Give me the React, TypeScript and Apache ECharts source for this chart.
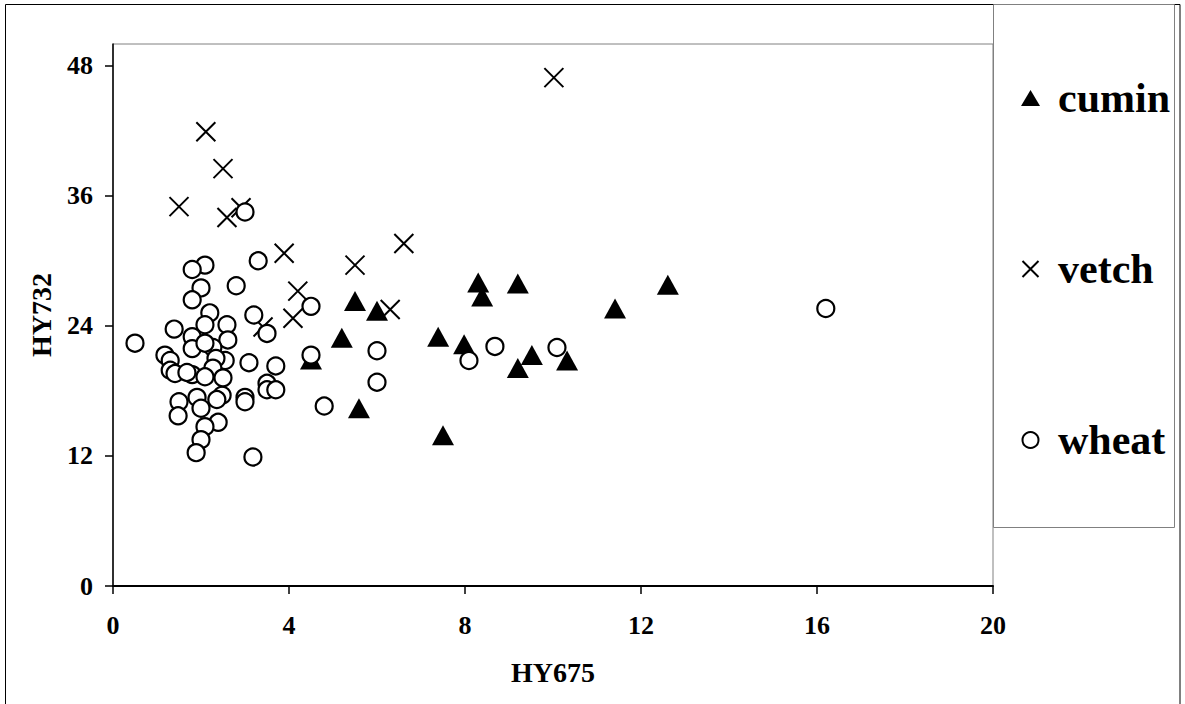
import React, { useEffect, useRef } from "react";
import * as echarts from "echarts";

const seriesNames = ["cumin", "vetch", "wheat"];
const xTicks = [0, 4, 8, 12, 16, 20];
const yTicks = [0, 12, 24, 36, 48];
const xAxisTitle = "HY675";
const yAxisTitle = "HY732";

const cumin: [number, number][] = [
  [4.5, 20.9], [5.5, 26.3], [6.0, 25.4], [5.2, 22.9], [5.59, 16.4], [7.39, 23.0],
  [7.5, 13.9], [7.98, 22.3], [8.3, 28.0], [8.39, 26.7], [9.2, 27.9], [9.2, 20.1],
  [9.52, 21.3], [10.32, 20.8], [11.41, 25.6], [12.61, 27.8],
];

const vetch: [number, number][] = [
  [10.02, 46.9], [2.11, 41.9], [2.5, 38.5], [1.5, 35.0], [2.59, 34.0], [2.91, 34.9],
  [3.89, 30.7], [4.2, 27.2], [4.09, 24.7], [5.5, 29.6], [6.61, 31.6], [6.3, 25.5],
  [3.41, 23.9],
];

const wheat: [number, number][] = [
  [3.0, 34.5], [2.09, 29.6], [1.8, 29.2], [3.3, 30.0], [2.8, 27.7], [2.0, 27.5],
  [1.8, 26.4], [2.2, 25.2], [3.2, 25.0], [4.5, 25.8], [1.39, 23.7], [2.59, 24.1],
  [2.09, 24.1], [3.5, 23.3], [0.5, 22.4], [1.8, 23.0], [2.61, 22.7], [1.8, 21.9],
  [2.27, 22.0], [2.09, 22.4], [1.18, 21.3], [1.3, 20.8], [2.55, 20.8], [2.34, 21.0],
  [4.5, 21.3], [1.3, 19.9], [1.41, 19.6], [1.8, 19.5], [2.27, 20.1], [2.09, 19.3],
  [3.09, 20.6], [3.7, 20.3], [3.5, 18.7], [3.5, 18.1], [3.7, 18.1], [3.0, 17.4],
  [3.0, 17.0], [2.48, 17.6], [1.91, 17.4], [1.5, 17.0], [1.48, 15.7], [2.0, 16.4],
  [2.39, 15.1], [2.09, 14.7], [2.0, 13.5], [1.89, 12.3], [3.18, 11.9], [6.0, 21.7],
  [6.0, 18.8], [4.8, 16.6], [8.09, 20.8], [8.68, 22.1], [10.09, 22.0], [16.2, 25.6],
  [1.68, 19.7], [2.36, 17.2], [2.5, 19.2],
];

const FONT = "'Liberation Serif', 'Times New Roman', serif";
const CROSS = "path://M0,0L10,10M10,0L0,10";

export default function App() {
  const ref = useRef<HTMLDivElement>(null);
  useEffect(() => {
    const chart = echarts.init(ref.current!, null, { renderer: "svg" });
    chart.setOption({
      animation: false,
      backgroundColor: "#ffffff",
      grid: {
        left: 113,
        top: 44,
        width: 880,
        height: 542,
        show: true,
        borderColor: "#808080",
        borderWidth: 1,
        backgroundColor: "transparent",
      },
      xAxis: {
        type: "value",
        min: 0,
        max: 20,
        interval: 4,
        name: xAxisTitle,
        nameLocation: "middle",
        nameGap: 72,
        nameTextStyle: { fontSize: 28, fontWeight: "bold", fontFamily: FONT, color: "#000" },
        axisLine: { onZero: false, lineStyle: { color: "#000", width: 2 } },
        axisTick: { show: true, length: 8, lineStyle: { color: "#000", width: 1.5 } },
        axisLabel: {
          margin: 26,
          fontSize: 26,
          fontWeight: "bold",
          fontFamily: FONT,
          color: "#000",
          customValues: xTicks,
        },
        splitLine: { show: false },
      },
      yAxis: {
        type: "value",
        min: 0,
        max: 50,
        name: yAxisTitle,
        nameLocation: "middle",
        nameGap: 58,
        nameRotate: 90,
        nameTextStyle: { fontSize: 28, fontWeight: "bold", fontFamily: FONT, color: "#000" },
        axisLine: { onZero: false, lineStyle: { color: "#000", width: 1.5 } },
        axisTick: { show: true, length: 8, lineStyle: { color: "#000", width: 1.5 }, customValues: yTicks },
        axisLabel: {
          margin: 20,
          fontSize: 26,
          fontWeight: "bold",
          fontFamily: FONT,
          color: "#000",
          customValues: yTicks,
        },
        splitLine: { show: false },
      },
      legend: {
        orient: "vertical",
        left: 1016,
        top: 70,
        itemWidth: 19,
        itemHeight: 16,
        itemGap: 125,
        textStyle: {
          fontSize: 42,
          fontWeight: "bold",
          fontFamily: FONT,
          color: "#000",
          lineHeight: 46,
          padding: [0, 0, 0, 13],
        },
        data: [
          { name: seriesNames[0], icon: "triangle" },
          { name: seriesNames[1], icon: CROSS },
          { name: seriesNames[2], icon: "circle" },
        ],
      },
      graphic: [
        {
          type: "rect",
          shape: { x: 5.5, y: 4.5, width: 1174.5, height: 720 },
          style: { fill: "none", stroke: "#000", lineWidth: 1 },
          z: 100,
          silent: true,
        },
        {
          type: "rect",
          shape: { x: 993.5, y: 4.5, width: 181, height: 523 },
          style: { fill: "none", stroke: "#808080", lineWidth: 1 },
          z: 100,
          silent: true,
        },
      ],
      series: [
        {
          name: seriesNames[0],
          type: "scatter",
          data: cumin,
          symbol: "triangle",
          symbolSize: [22, 20],
          itemStyle: { color: "#000", opacity: 1 },
          z: 2,
        },
        {
          name: seriesNames[1],
          type: "scatter",
          data: vetch,
          symbol: CROSS,
          symbolSize: 19,
          itemStyle: { color: "rgba(0,0,0,0)", borderColor: "#000", borderWidth: 2, opacity: 1 },
          z: 3,
        },
        {
          name: seriesNames[2],
          type: "scatter",
          data: wheat,
          symbol: "circle",
          symbolSize: 17,
          itemStyle: { color: "#fff", borderColor: "#000", borderWidth: 2.2, opacity: 1 },
          z: 4,
        },
      ],
    });
    return () => chart.dispose();
  }, []);
  return (
    <div
      ref={ref}
      style={{ position: "absolute", left: 0, top: 0, width: 1185, height: 704 }}
    />
  );
}
